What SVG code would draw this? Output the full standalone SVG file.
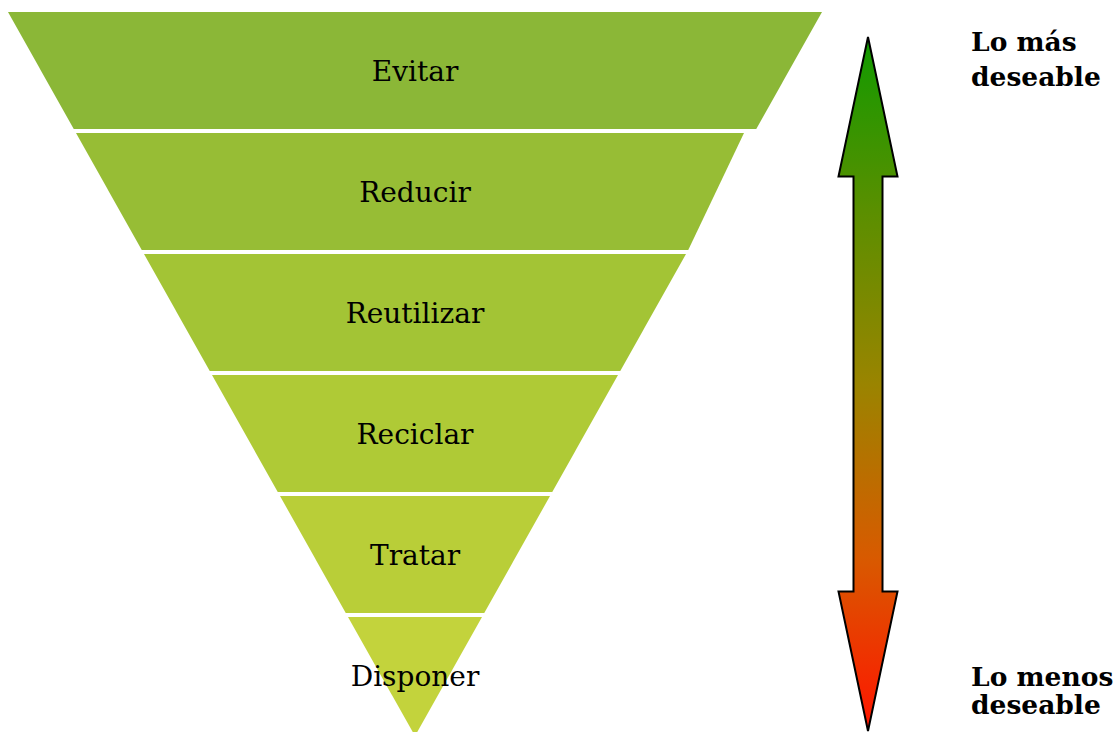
<svg xmlns="http://www.w3.org/2000/svg" width="1120" height="732" viewBox="0 0 1120 732">
<defs>
<linearGradient id="arrowGrad" x1="0" y1="0" x2="0" y2="1">
<stop offset="0" stop-color="#109a00"/>
<stop offset="0.25" stop-color="#5a8f00"/>
<stop offset="0.5" stop-color="#9a8400"/>
<stop offset="0.75" stop-color="#d85a00"/>
<stop offset="1" stop-color="#ff1500"/>
</linearGradient>
<style>
.lbl{font-family:"DejaVu Serif","Liberation Serif",serif;font-size:28px;fill:#000;text-anchor:middle}
.side{font-family:"DejaVu Serif","Liberation Serif",serif;font-size:26.5px;font-weight:bold;fill:#000}
</style>
</defs>
<rect width="1120" height="732" fill="#ffffff"/>
<g id="evitar">
<polygon points="8,12 822,12 756.25,129 73.75,129" fill="#8bb737"/>
<text class="lbl" x="415" y="81">Evitar</text>
</g>
<g id="reducir">
<polygon points="76,133 744,133 688.24,250 141.76,250" fill="#97bd35"/>
<text class="lbl" x="415" y="202">Reducir</text>
</g>
<g id="reutilizar">
<polygon points="144,254 686,254 620.24,371 209.76,371" fill="#a3c435"/>
<text class="lbl" x="415" y="323">Reutilizar</text>
</g>
<g id="reciclar">
<polygon points="212,375 618,375 552.24,492 277.76,492" fill="#afca36"/>
<text class="lbl" x="415" y="444">Reciclar</text>
</g>
<g id="tratar">
<polygon points="280,496 550,496 484.24,613 345.76,613" fill="#b9ce38"/>
<text class="lbl" x="415" y="565">Tratar</text>
</g>
<g id="disponer">
<polygon points="348,617 482,617 415,736" fill="#c3d33c"/>
<text class="lbl" x="415" y="686">Disponer</text>
</g>
<g id="connectors">
<polygon points="868,37 897.5,176.5 882.5,176.5 882.5,591.5 897.5,591.5 868,731 838.5,591.5 853.5,591.5 853.5,176.5 838.5,176.5" fill="url(#arrowGrad)" stroke="#000" stroke-width="2" stroke-linejoin="miter"/>
</g>
<g id="mas-deseable">
<text class="side" x="971" y="51">Lo más</text>
<text class="side" x="971" y="86">deseable</text>
</g>
<g id="menos-deseable">
<text class="side" x="971" y="686">Lo menos</text>
<text class="side" x="971" y="714">deseable</text>
</g>
</svg>
